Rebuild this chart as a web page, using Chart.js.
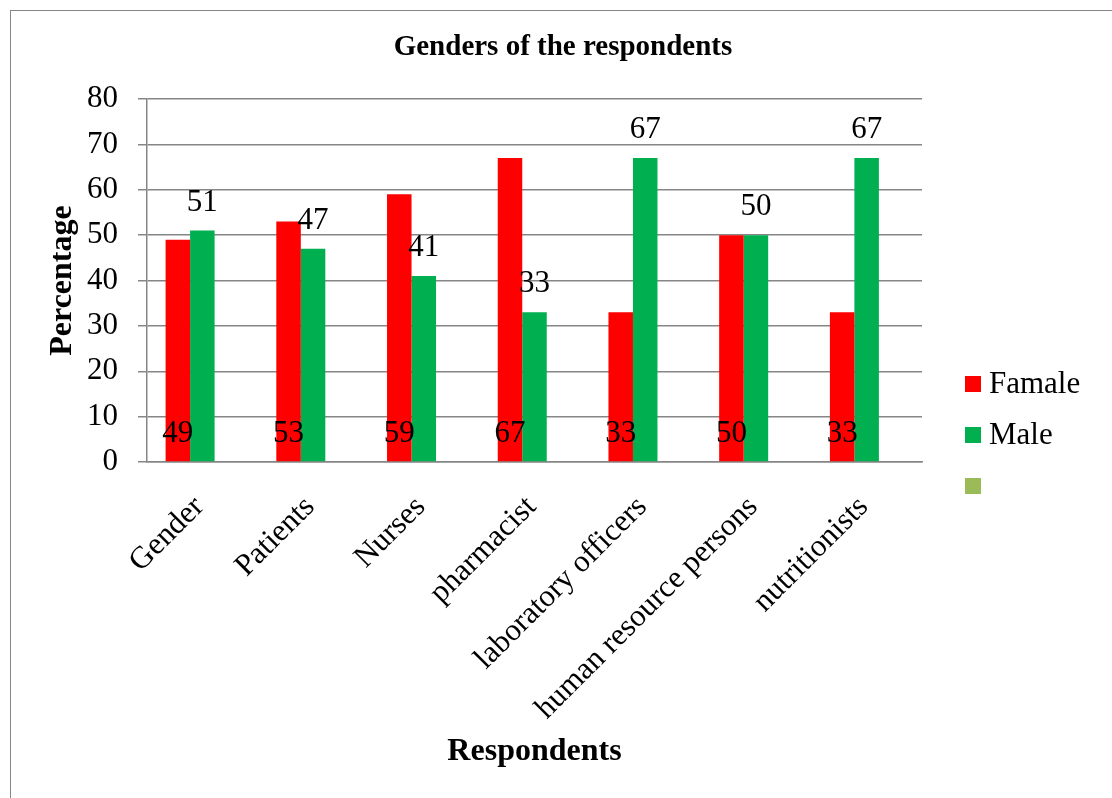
<!DOCTYPE html>
<html>
<head>
<meta charset="utf-8">
<script src="https://cdn.jsdelivr.net/npm/chart.js@4.4.0/dist/chart.umd.min.js"></script>
<style>
  html, body { margin: 0; padding: 0; background: #fff; overflow: hidden; }
  #wrap { position: relative; width: 1112px; height: 798px; }
  #frame { position: absolute; left: 10px; top: 10px; width: 1130px; height: 810px;
           border: 1.5px solid #868686; box-sizing: border-box; }
  #genderChart { position: absolute; left: 0; top: 0; }
</style>
</head>
<body>
<div id="wrap">
  <div id="frame"></div>
  <canvas id="genderChart" width="1112" height="798"></canvas>
</div>
<script>
const categories = ['Gender', 'Patients', 'Nurses', 'pharmacist', 'laboratory officers', 'human resource persons', 'nutritionists'];
const femaleValues = [49, 53, 59, 67, 33, 50, 33];
const maleValues = [51, 47, 41, 33, 67, 50, 67];
const thirdValues = [null, null, null, null, null, null, null];
const yTicks = [0, 10, 20, 30, 40, 50, 60, 70, 80];
const chartTitle = 'Genders of the respondents';

const serif = '"Liberation Serif", "Times New Roman", serif';
const gridGrey = '#868686';

// title centred on the whole frame, not on the plot
const frameTitle = {
  id: 'frameTitle',
  afterDraw(chart) {
    const ctx = chart.ctx;
    ctx.save();
    ctx.font = 'bold 29px ' + serif;
    ctx.fillStyle = '#000';
    ctx.textAlign = 'center';
    ctx.textBaseline = 'middle';
    ctx.fillText(chartTitle, chart.width / 2 + 7, 48);
    ctx.restore();
  }
};

// value labels: female at the base of the bar, male above the bar
const valueLabels = {
  id: 'valueLabels',
  afterDatasetsDraw(chart) {
    const ctx = chart.ctx;
    const base = chart.scales.y.getPixelForValue(0);
    ctx.save();
    ctx.font = '31px ' + serif;
    ctx.fillStyle = '#000';
    ctx.textAlign = 'center';
    ctx.textBaseline = 'middle';
    chart.data.datasets.forEach((ds, i) => {
      if (!ds.labelPos) return;
      chart.getDatasetMeta(i).data.forEach((bar, j) => {
        const v = ds.data[j];
        if (v == null) return;
        const y = ds.labelPos === 'base' ? base - 28 : bar.y - 28;
        ctx.fillText(String(v), bar.x, y);
      });
    });
    ctx.restore();
  }
};

// legend to the right of the plot, lower half
const sideLegend = {
  id: 'sideLegend',
  afterDraw(chart) {
    const ctx = chart.ctx;
    const x = chart.chartArea.right + 43;
    ctx.save();
    ctx.font = '31px ' + serif;
    ctx.textBaseline = 'middle';
    ctx.textAlign = 'left';
    chart.data.datasets.forEach((ds, i) => {
      const cy = 384 + i * 51;
      ctx.fillStyle = ds.backgroundColor;
      ctx.fillRect(x, cy - 8, 16, 16);
      ctx.fillStyle = '#000';
      ctx.fillText(ds.label, x + 24, cy + 1);
    });
    ctx.restore();
  }
};

new Chart(document.getElementById('genderChart'), {
  type: 'bar',
  data: {
    labels: categories,
    datasets: [
      { label: 'Famale', data: femaleValues, backgroundColor: '#FF0000', labelPos: 'base' },
      { label: 'Male', data: maleValues, backgroundColor: '#00B050', labelPos: 'top' },
      { label: '', data: thirdValues, backgroundColor: '#9BBB59' }
    ]
  },
  options: {
    responsive: false,
    animation: false,
    devicePixelRatio: 1,
    barPercentage: 1,
    categoryPercentage: 0.664,
    layout: { padding: { left: 0, right: 190, top: 99, bottom: 0 } },
    plugins: {
      legend: { display: false },
      tooltip: { enabled: false },
      title: { display: false }
    },
    scales: {
      x: {
        grid: { display: false, drawTicks: false },
        border: { display: true, color: gridGrey, width: 1.5 },
        ticks: {
          color: '#000',
          font: { family: serif, size: 31 },
          maxRotation: 45,
          minRotation: 45,
          autoSkip: false,
          padding: 27,
          labelOffset: -3
        },
        title: {
          display: true,
          text: 'Respondents',
          color: '#000',
          font: { family: serif, size: 32, weight: 'bold' },
          padding: { top: 0, bottom: 27 }
        },
        afterFit(scale) { scale.height = 336; }
      },
      y: {
        min: 0,
        max: 80,
        grid: { color: gridGrey, lineWidth: 1.5, tickLength: 9, tickColor: gridGrey },
        border: { display: true, color: gridGrey, width: 1.5 },
        afterBuildTicks(scale) { scale.ticks = yTicks.map(v => ({ value: v })); },
        ticks: {
          color: '#000',
          font: { family: serif, size: 31 },
          padding: 20
        },
        title: {
          display: true,
          text: 'Percentage',
          color: '#000',
          font: { family: serif, size: 32, weight: 'bold' },
          padding: { top: 44, bottom: 0 }
        },
        afterFit(scale) { scale.width = 147; }
      }
    }
  },
  plugins: [valueLabels, sideLegend, frameTitle]
});
</script>
</body>
</html>
